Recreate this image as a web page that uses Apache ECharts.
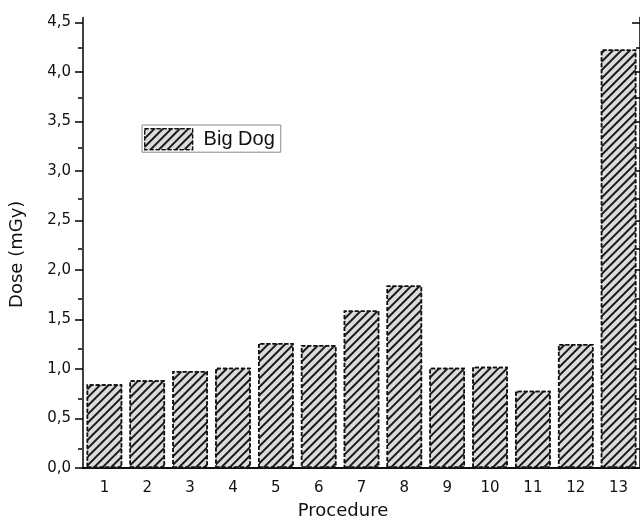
<!DOCTYPE html>
<html>
<head>
<meta charset="utf-8">
<script src="https://cdn.jsdelivr.net/npm/echarts@6/dist/echarts.min.js"></script>
<style>
html,body{margin:0;padding:0;background:#fff;}
#chart{width:640px;height:525px;}
</style>
</head>
<body>
<div id="chart"></div>
<script>
const categories = ['1','2','3','4','5','6','7','8','9','10','11','12','13'];
const seriesName = 'Big Dog';
const doseValues = [0.845, 0.887, 0.98, 1.014, 1.263, 1.243, 1.592, 1.844, 1.014, 1.024, 0.78, 1.253, 4.227];
const yMajorTicks = [0, 0.5, 1.0, 1.5, 2.0, 2.5, 3.0, 3.5, 4.0, 4.5];
const yMinorTicks = [0.25, 0.75, 1.25, 1.75, 2.25, 2.75, 3.25, 3.75, 4.25];
const yMin = 0, yMax = 4.55;

const chart = echarts.init(document.getElementById('chart'), null, {renderer: 'canvas'});
const gridBox = {left: 82, right: -3.3, top: 17.6, bottom: 50.7, containLabel: false};
const lineStyle = {color: '#000', width: 1.5};
const tickFont = {fontFamily: 'DejaVu Sans', fontSize: 15, color: '#111'};
const hatch = {
  symbol: 'rect',
  symbolSize: 1,
  dashArrayX: [1, 0],
  dashArrayY: [2, 4],
  rotation: -Math.PI / 4,
  color: '#1a1a1a',
  backgroundColor: 'rgba(0,0,0,0)'
};

chart.setOption({
  backgroundColor: '#fff',
  animation: false,
  grid: [Object.assign({}, gridBox), Object.assign({}, gridBox)],
  legend: {
    left: 142, top: 125,
    orient: 'horizontal',
    icon: 'rect',
    itemWidth: 48, itemHeight: 21,
    padding: [3, 6, 2, 2],
    borderColor: '#8a8a8a', borderWidth: 1, backgroundColor: '#fff',
    itemStyle: {color: '#dcdcdc', borderColor: '#111', borderWidth: 1.2, borderType: [4, 2], decal: hatch},
    textStyle: {fontFamily: 'Liberation Sans', fontSize: 20, color: '#111', padding: [0, 0, 0, 6]},
    data: [seriesName]
  },
  xAxis: [
    {gridIndex: 0, type: 'category', position: 'bottom', data: categories,
     axisLine: {lineStyle: lineStyle},
     axisTick: {alignWithLabel: true, inside: false, length: 8, lineStyle: lineStyle},
     axisLabel: Object.assign({margin: 13, interval: 0}, tickFont),
     name: 'Procedure', nameLocation: 'middle', nameGap: 34,
     nameTextStyle: {fontFamily: 'DejaVu Sans', fontSize: 18, color: '#111', padding: [0, 37, 0, 0]}},
    {gridIndex: 0, type: 'category', position: 'top', data: categories,
     axisLine: {lineStyle: lineStyle},
     axisTick: {alignWithLabel: true, inside: true, length: 8, lineStyle: lineStyle},
     axisLabel: {show: false}},
    {gridIndex: 1, type: 'category', position: 'bottom', data: categories,
     axisLine: {show: false},
     axisTick: {alignWithLabel: false, inside: false, length: 4, lineStyle: lineStyle},
     axisLabel: {show: false}},
    {gridIndex: 1, type: 'category', position: 'top', data: categories,
     axisLine: {show: false},
     axisTick: {alignWithLabel: false, inside: true, length: 4, lineStyle: lineStyle},
     axisLabel: {show: false}}
  ],
  yAxis: [
    {gridIndex: 0, type: 'value', position: 'left', min: yMin, max: yMax,
     axisLine: {show: true, lineStyle: lineStyle},
     splitLine: {show: false},
     axisTick: {show: true, inside: false, length: 8, lineStyle: lineStyle, customValues: yMajorTicks},
     axisLabel: Object.assign({margin: 12, customValues: yMajorTicks,
       formatter: function (v) { return v.toFixed(1).replace('.', ','); }}, tickFont),
     name: 'Dose (mGy)', nameLocation: 'middle', nameGap: 57, nameRotate: 90,
     nameTextStyle: {fontFamily: 'DejaVu Sans', fontSize: 18, color: '#111', padding: [0, 23, 0, 0]}},
    {gridIndex: 0, type: 'value', position: 'right', min: yMin, max: yMax,
     axisLine: {show: true, lineStyle: lineStyle},
     splitLine: {show: false},
     axisTick: {show: true, inside: true, length: 8, lineStyle: lineStyle, customValues: yMajorTicks},
     axisLabel: {show: false}},
    {gridIndex: 1, type: 'value', position: 'left', min: yMin, max: yMax,
     axisLine: {show: false}, splitLine: {show: false},
     axisTick: {show: true, inside: false, length: 4, lineStyle: lineStyle, customValues: yMinorTicks},
     axisLabel: {show: false}},
    {gridIndex: 1, type: 'value', position: 'right', min: yMin, max: yMax,
     axisLine: {show: false}, splitLine: {show: false},
     axisTick: {show: true, inside: true, length: 4, lineStyle: lineStyle, customValues: yMinorTicks},
     axisLabel: {show: false}}
  ],
  series: [{
    name: seriesName,
    type: 'bar',
    xAxisIndex: 0, yAxisIndex: 0,
    data: doseValues,
    barCategoryGap: '17%',
    itemStyle: {
      color: '#dcdcdc',
      borderColor: '#111',
      borderWidth: 1.5,
      borderType: [4, 2],
      decal: hatch
    }
  }]
});
</script>
</body>
</html>
